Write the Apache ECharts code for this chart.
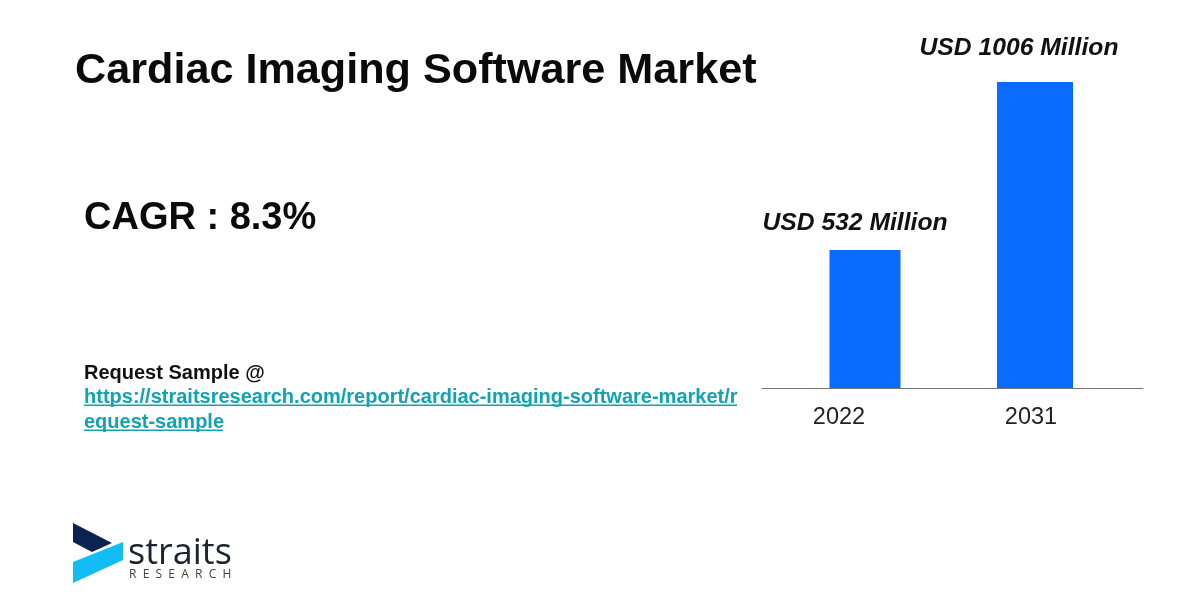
<!DOCTYPE html>
<html><head><meta charset="utf-8">
<style>html,body{margin:0;padding:0;background:#fff}#c{width:1200px;height:600px}</style>
<script src="https://cdn.jsdelivr.net/npm/echarts@6/dist/echarts.min.js"></script>
</head><body><div id="c"></div>
<script>
const categories = ['2022', '2031'];
const values2022 = [532, null];
const values2031 = [null, 1006];
const titleText = 'Cardiac Imaging Software Market';
const cagrText = 'CAGR : 8.3%';
const requestText = 'Request Sample @';
const linkLine1 = 'https://straitsresearch.com/report/cardiac-imaging-software-market/r';
const linkLine2 = 'equest-sample';
const FONT = '"Liberation Sans", Arial, sans-serif';
const BLUE = '#0a6cff';
const TEAL = '#12a3b0';

const labelStyle = {
  show: true, position: 'top', formatter: p => 'USD ' + p.value + ' Million',
  fontFamily: FONT, fontSize: 24.7, fontStyle: 'italic', fontWeight: 'bold', color: '#111'
};
const chart = echarts.init(document.getElementById('c'));
chart.setOption({
  backgroundColor: '#fff',
  animation: false,
  grid: [
    { left: 783.75, right: 81.25, top: 82, height: 306 },
    { left: 743, right: 73, top: 82, height: 306 },
    { left: 762, right: 57, top: 82, height: 306 }
  ],
  xAxis: [
    { gridIndex: 0, type: 'category', data: categories, axisLine: {show: false}, axisTick: {show: false}, axisLabel: {show: false} },
    { gridIndex: 1, type: 'category', data: categories, axisLine: {show: false}, axisTick: {show: false},
      axisLabel: { color: '#222', fontFamily: FONT, fontSize: 23.5, margin: 18 } },
    { gridIndex: 2, type: 'category', data: [], axisLine: {show: true, lineStyle: {color: '#777', width: 1}}, axisTick: {show: false}, axisLabel: {show: false} }
  ],
  yAxis: [
    { gridIndex: 0, type: 'value', min: 143, max: 1006, show: false },
    { gridIndex: 1, type: 'value', show: false },
    { gridIndex: 2, type: 'value', show: false }
  ],
  series: [
    { type: 'bar', name: '2022', xAxisIndex: 0, yAxisIndex: 0, data: values2022, barWidth: 71, barGap: '-100%',
      itemStyle: {color: BLUE}, label: Object.assign({}, labelStyle, {offset: [-10, -9]}) },
    { type: 'bar', name: '2031', xAxisIndex: 0, yAxisIndex: 0, data: values2031, barWidth: 76, barGap: '-100%',
      itemStyle: {color: BLUE}, label: Object.assign({}, labelStyle, {offset: [-16, -16]}) }
  ],
  graphic: [
    { type: 'text', left: 75, top: 50, style: { text: titleText, font: 'bold 43.2px ' + FONT, fill: '#0a0a0a' } },
    { type: 'text', left: 84, top: 200, style: { text: cagrText, font: 'bold 38px ' + FONT, fill: '#0a0a0a' } },
    { type: 'text', left: 84, top: 363, style: { text: requestText, font: 'bold 20px ' + FONT, fill: '#111' } },
    { type: 'text', left: 84, top: 387, style: { text: linkLine1, font: 'bold 20px ' + FONT, fill: TEAL } },
    { type: 'rect', shape: {x: 84, y: 404.5, width: 653, height: 1.5}, style: {fill: TEAL} },
    { type: 'text', left: 84, top: 412, style: { text: linkLine2, font: 'bold 20px ' + FONT, fill: TEAL } },
    { type: 'rect', shape: {x: 84, y: 429.5, width: 139, height: 1.5}, style: {fill: TEAL} },
    { type: 'polygon', shape: {points: [[73,523],[112,543],[92,552],[73,542]]}, style: {fill: '#0b2350'} },
    { type: 'polygon', shape: {points: [[73,562],[123,542],[123,560],[73,583]]}, style: {fill: '#12bdf5'} },
    { type: 'text', left: 128, top: 536, style: { text: 'straits', font: '36px "Open Sans", sans-serif', fill: '#1c2430' } },
    { type: 'text', left: 129, top: 569, style: { text: 'R  E  S  E  A  R  C  H', font: '12px "Open Sans", sans-serif', fill: '#444' } }
  ]
});
</script></body></html>
